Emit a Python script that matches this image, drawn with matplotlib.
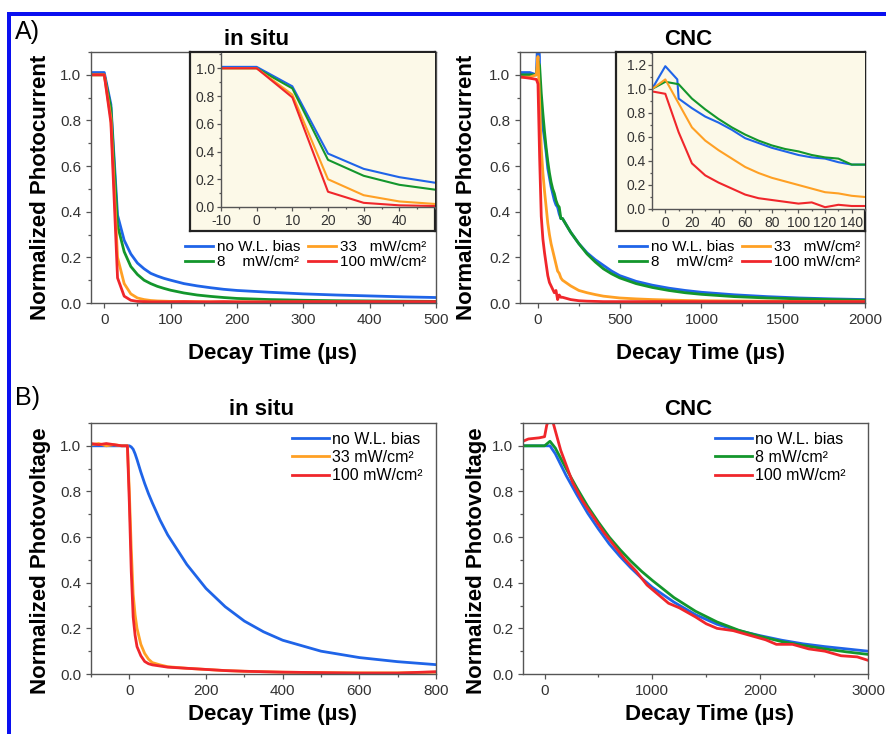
import matplotlib
matplotlib.use("Agg")
import matplotlib.pyplot as plt
from matplotlib.ticker import MultipleLocator, FormatStrFormatter
from matplotlib.patches import Rectangle

plt.rcParams['font.family'] = ['Liberation Sans', 'DejaVu Sans']
plt.rcParams['axes.unicode_minus'] = False

# ---------------- data ----------------
# A) in situ photocurrent
t_situ_pc = [-20, -10, 0, 10, 20, 30, 40, 50, 60, 70, 80, 90, 100, 120, 140, 160, 180, 200,
             250, 300, 350, 400, 450, 500]
situ_pc_blue = [1.01, 1.01, 1.01, 0.87, 0.385, 0.275, 0.215, 0.175, 0.15, 0.13, 0.118, 0.108, 0.1,
                0.085, 0.075, 0.067, 0.06, 0.055, 0.047, 0.04, 0.035, 0.031, 0.027, 0.024]
situ_pc_green = [1.0, 1.0, 1.0, 0.855, 0.34, 0.225, 0.16, 0.125, 0.1, 0.085, 0.073, 0.064, 0.056,
                 0.044, 0.035, 0.029, 0.024, 0.02, 0.015, 0.012, 0.01, 0.009, 0.008, 0.007]
situ_pc_orange = [1.0, 1.0, 1.0, 0.81, 0.2, 0.085, 0.04, 0.022, 0.015, 0.011, 0.009, 0.008, 0.007,
                  0.006, 0.006, 0.005, 0.005, 0.005, 0.004, 0.004, 0.004, 0.004, 0.003, 0.003]
situ_pc_red = [1.0, 1.0, 1.0, 0.79, 0.11, 0.03, 0.012, 0.007, 0.006, 0.005, 0.005, 0.005, 0.005,
               0.006, 0.005, 0.005, 0.006, 0.005, 0.005, 0.006, 0.006, 0.006, 0.006, 0.006]

# A) CNC photocurrent
t_cnc_pc_blue = [-100, -50, -10, 0, 9, 10, 20, 30, 40, 50, 60, 70, 80, 90, 100, 110, 120, 130, 140,
                 150, 200, 250, 300, 350, 400, 450, 500, 600, 700, 800, 900, 1000, 1200, 1400,
                 1600, 1800, 2000]
cnc_pc_blue = [1.01, 1.01, 1.0, 1.19, 1.08, 0.92, 0.84, 0.77, 0.72, 0.66, 0.59, 0.55, 0.51, 0.48,
               0.45, 0.43, 0.42, 0.39, 0.37, 0.37, 0.31, 0.26, 0.22, 0.19, 0.165, 0.14, 0.12,
               0.095, 0.078, 0.065, 0.055, 0.047, 0.036, 0.028, 0.022, 0.018, 0.015]
t_cnc_pc = [-100, -50, -10, 0, 10, 20, 30, 40, 50, 60, 70, 80, 90, 100, 110, 120, 130, 140, 150,
            200, 250, 300, 350, 400, 450, 500, 600, 700, 800, 900, 1000, 1200, 1400, 1600,
            1800, 2000]
cnc_pc_green = [1.0, 1.0, 1.0, 1.06, 1.04, 0.92, 0.83, 0.75, 0.68, 0.62, 0.57, 0.53, 0.5, 0.48,
                0.45, 0.43, 0.42, 0.37, 0.37, 0.31, 0.26, 0.215, 0.18, 0.15, 0.128, 0.11, 0.085,
                0.068, 0.055, 0.045, 0.038, 0.028, 0.022, 0.018, 0.015, 0.012]
cnc_pc_orange = [0.99, 0.99, 1.0, 1.08, 0.88, 0.68, 0.57, 0.49, 0.42, 0.35, 0.3, 0.26, 0.23, 0.2,
                 0.17, 0.14, 0.13, 0.11, 0.1, 0.075, 0.055, 0.045, 0.037, 0.03, 0.026, 0.022,
                 0.018, 0.015, 0.013, 0.011, 0.01, 0.009, 0.008, 0.007, 0.006, 0.006]
cnc_pc_red = [0.99, 0.985, 0.98, 0.96, 0.64, 0.38, 0.28, 0.22, 0.17, 0.12, 0.09, 0.075, 0.06,
              0.045, 0.055, 0.015, 0.035, 0.025, 0.025, 0.015, 0.01, 0.008, 0.007, 0.006, 0.006,
              0.006, 0.006, 0.006, 0.006, 0.006, 0.006, 0.006, 0.006, 0.006, 0.006, 0.006]

# B) in situ photovoltage
t_situ_pv = [-100, -80, -60, -40, -20, -10, -5, 0, 5, 10, 15, 20, 30, 40, 50, 60, 80, 100, 150,
             200, 250, 300, 350, 400, 500, 600, 700, 800]
situ_pv_blue = [1.0, 1.0, 1.0, 1.0, 1.0, 1.0, 1.0, 1.0, 0.995, 0.985, 0.965, 0.94, 0.885, 0.835,
                0.79, 0.75, 0.675, 0.61, 0.48, 0.375, 0.295, 0.232, 0.185, 0.148, 0.1, 0.072,
                0.054, 0.041]
situ_pv_orange = [1.005, 1.01, 1.0, 1.005, 1.0, 1.0, 1.0, 0.8, 0.55, 0.35, 0.26, 0.2, 0.13, 0.09,
                  0.065, 0.05, 0.04, 0.032, 0.025, 0.02, 0.015, 0.012, 0.01, 0.008, 0.006, 0.005,
                  0.005, 0.008]
situ_pv_red = [1.01, 1.005, 1.01, 1.005, 1.0, 1.0, 1.0, 0.75, 0.45, 0.25, 0.17, 0.12, 0.08, 0.055,
               0.045, 0.04, 0.035, 0.03, 0.025, 0.02, 0.015, 0.012, 0.01, 0.008, 0.006, 0.004,
               0.004, 0.01]

# B) CNC photovoltage
t_cnc_pv = [-200, 0, 50, 100, 200, 300, 400, 500, 600, 700, 800, 900, 1000, 1200, 1400, 1600,
            1800, 2000, 2200, 2400, 2600, 2800, 3000]
cnc_pv_blue = [1.0, 1.0, 1.0, 0.965, 0.87, 0.785, 0.705, 0.635, 0.57, 0.515, 0.465, 0.42, 0.38,
               0.315, 0.26, 0.218, 0.19, 0.168, 0.148, 0.132, 0.12, 0.11, 0.10]
cnc_pv_green = [1.0, 1.0, 1.02, 0.99, 0.90, 0.815, 0.735, 0.665, 0.60, 0.545, 0.495, 0.45, 0.41,
                0.335, 0.275, 0.228, 0.192, 0.165, 0.142, 0.125, 0.11, 0.097, 0.086]
t_cnc_pv_red = [-200, -150, -50, 0, 20, 50, 80, 150, 260, 350, 450, 550, 650, 750, 850, 950,
                1050, 1150, 1250, 1400, 1500, 1600, 1750, 1900, 2050, 2150, 2300, 2450, 2600,
                2750, 2900, 3000]
cnc_pv_red = [1.02, 1.03, 1.035, 1.04, 1.09, 1.13, 1.1, 0.98, 0.84, 0.76, 0.69, 0.62, 0.56, 0.5,
              0.45, 0.39, 0.35, 0.31, 0.29, 0.25, 0.22, 0.2, 0.19, 0.17, 0.15, 0.13, 0.13, 0.11,
              0.10, 0.08, 0.075, 0.06]

lab_A = ['no W.L. bias', '8    mW/cm²', '33   mW/cm²', '100 mW/cm²']
lab_B_situ = ['no W.L. bias', '33 mW/cm²', '100 mW/cm²']
lab_B_cnc = ['no W.L. bias', '8 mW/cm²', '100 mW/cm²']

C_BLUE = '#1f64e8'
C_GREEN = '#13962c'
C_ORANGE = '#ffa024'
C_RED = '#f0262b'
BEIGE = '#fcf9e8'

W, H = 886, 734
fig = plt.figure(figsize=(W / 100, H / 100), dpi=100)


def rect(l, t, r, b):
    return [l / W, (H - b) / H, (r - l) / W, (b - t) / H]


def style(ax, fs=11, major=3.5, minor=2.0):
    for s in ax.spines.values():
        s.set_color('#555555')
        s.set_linewidth(1.0)
    ax.tick_params(which='both', direction='out', colors='#555555', labelcolor='#333333',
                   labelsize=fs, width=0.9)
    ax.tick_params(which='major', length=major)
    ax.tick_params(which='minor', length=minor)
    ax.yaxis.set_major_formatter(FormatStrFormatter('%.1f'))


def labels(ax, ylab, xl_x, xl_y, yl_x, yl_y, title, tx, ty):
    ax.set_xlabel('Decay Time (µs)', fontsize=16, fontweight='bold')
    ax.set_ylabel(ylab, fontsize=16, fontweight='bold')
    ax.xaxis.set_label_coords(xl_x, xl_y)
    ax.yaxis.set_label_coords(yl_x, yl_y)
    ax.text(tx, ty, title, transform=ax.transAxes, fontsize=16, fontweight='bold',
            ha='center', va='center')


LW = 2.0

# ---------- A left ----------
ax1 = fig.add_axes(rect(91, 52, 436, 303))
ax1.plot(t_situ_pc, situ_pc_blue, color=C_BLUE, lw=LW, label=lab_A[0])
ax1.plot(t_situ_pc, situ_pc_green, color=C_GREEN, lw=LW, label=lab_A[1])
ax1.plot(t_situ_pc, situ_pc_orange, color=C_ORANGE, lw=LW, label=lab_A[2])
ax1.plot(t_situ_pc, situ_pc_red, color=C_RED, lw=LW, label=lab_A[3])
ax1.set_xlim(-20, 500)
ax1.set_ylim(0, 1.1)
ax1.xaxis.set_major_locator(MultipleLocator(100))
ax1.xaxis.set_minor_locator(MultipleLocator(50))
ax1.yaxis.set_major_locator(MultipleLocator(0.2))
ax1.yaxis.set_minor_locator(MultipleLocator(0.1))
style(ax1)
labels(ax1, 'Normalized Photocurrent', 0.527, -0.16, -0.117, 0.46, 'in situ', 0.481, 1.048)

# ---------- A right ----------
ax2 = fig.add_axes(rect(520, 52, 865, 303))
ax2.plot(t_cnc_pc_blue, cnc_pc_blue, color=C_BLUE, lw=LW, label=lab_A[0])
ax2.plot(t_cnc_pc, cnc_pc_green, color=C_GREEN, lw=LW, label=lab_A[1])
ax2.plot(t_cnc_pc, cnc_pc_orange, color=C_ORANGE, lw=LW, label=lab_A[2])
ax2.plot(t_cnc_pc, cnc_pc_red, color=C_RED, lw=LW, label=lab_A[3])
ax2.set_xlim(-110, 2000)
ax2.set_ylim(0, 1.1)
ax2.xaxis.set_major_locator(MultipleLocator(500))
ax2.xaxis.set_minor_locator(MultipleLocator(250))
ax2.yaxis.set_major_locator(MultipleLocator(0.2))
ax2.yaxis.set_minor_locator(MultipleLocator(0.1))
style(ax2)
labels(ax2, 'Normalized Photocurrent', 0.522, -0.16, -0.125, 0.46, 'CNC', 0.487, 1.048)

# ---------- B left ----------
ax3 = fig.add_axes(rect(91, 423, 436, 674))
ax3.plot(t_situ_pv, situ_pv_blue, color=C_BLUE, lw=LW, label=lab_B_situ[0])
ax3.plot(t_situ_pv, situ_pv_orange, color=C_ORANGE, lw=LW, label=lab_B_situ[1])
ax3.plot(t_situ_pv, situ_pv_red, color=C_RED, lw=LW, label=lab_B_situ[2])
ax3.set_xlim(-100, 800)
ax3.set_ylim(0, 1.1)
ax3.xaxis.set_major_locator(MultipleLocator(200))
ax3.xaxis.set_minor_locator(MultipleLocator(100))
ax3.yaxis.set_major_locator(MultipleLocator(0.2))
ax3.yaxis.set_minor_locator(MultipleLocator(0.1))
style(ax3)
labels(ax3, 'Normalized Photovoltage', 0.527, -0.12, -0.117, 0.45, 'in situ', 0.495, 1.052)

# ---------- B right ----------
ax4 = fig.add_axes(rect(523, 423, 868, 674))
ax4.plot(t_cnc_pv, cnc_pv_blue, color=C_BLUE, lw=LW, label=lab_B_cnc[0])
ax4.plot(t_cnc_pv, cnc_pv_green, color=C_GREEN, lw=LW, label=lab_B_cnc[1])
ax4.plot(t_cnc_pv_red, cnc_pv_red, color=C_RED, lw=LW, label=lab_B_cnc[2])
ax4.set_xlim(-200, 3000)
ax4.set_ylim(0, 1.1)
ax4.xaxis.set_major_locator(MultipleLocator(1000))
ax4.xaxis.set_minor_locator(MultipleLocator(500))
ax4.yaxis.set_major_locator(MultipleLocator(0.2))
ax4.yaxis.set_minor_locator(MultipleLocator(0.1))
style(ax4)
labels(ax4, 'Normalized Photovoltage', 0.542, -0.12, -0.104, 0.45, 'CNC', 0.478, 1.052)

# ---------- legends ----------
legA = dict(loc='upper left', frameon=False, ncol=2, fontsize=11, handlelength=1.85,
            handletextpad=0.25, columnspacing=0.5, labelspacing=0.05, borderpad=0,
            borderaxespad=0)
ax1.legend(bbox_to_anchor=(0.272, 0.25), **legA)
ax2.legend(bbox_to_anchor=(0.287, 0.25), **legA)
legB = dict(loc='upper left', frameon=False, fontsize=11.5, handlelength=2.3,
            handletextpad=0.2, labelspacing=0.2, borderpad=0, borderaxespad=0)
ax3.legend(bbox_to_anchor=(0.583, 0.965), **legB)
ax4.legend(bbox_to_anchor=(0.557, 0.965), **legB)


# ---------- insets ----------
def inset(box, inner, series, xlim, ylim, xmaj, xmin, ymaj, ymin):
    bx = fig.add_axes(rect(*box))
    bx.set_facecolor(BEIGE)
    bx.set_xticks([])
    bx.set_yticks([])
    for s in bx.spines.values():
        s.set_color('#222222')
        s.set_linewidth(1.6)
    ia = fig.add_axes(rect(*inner))
    ia.set_facecolor(BEIGE)
    for t, v, c in series:
        ia.plot(t, v, color=c, lw=1.5)
    ia.set_xlim(*xlim)
    ia.set_ylim(*ylim)
    ia.xaxis.set_major_locator(MultipleLocator(xmaj))
    ia.xaxis.set_minor_locator(MultipleLocator(xmin))
    ia.yaxis.set_major_locator(MultipleLocator(ymaj))
    ia.yaxis.set_minor_locator(MultipleLocator(ymin))
    style(ia, fs=10, major=3, minor=1.5)
    ia.tick_params(axis='x', pad=2)
    ia.tick_params(axis='y', pad=1.5)
    ia.spines['top'].set_visible(False)
    ia.spines['right'].set_visible(False)
    ia.set_xticks([x for x in ia.get_xticks() if xlim[0] <= x < xlim[1]])
    return ia


inset((190, 52, 435, 231), (221, 53, 435, 207),
      [(t_situ_pc, situ_pc_blue, C_BLUE), (t_situ_pc, situ_pc_green, C_GREEN),
       (t_situ_pc, situ_pc_orange, C_ORANGE), (t_situ_pc, situ_pc_red, C_RED)],
      (-10, 50), (0, 1.11), 10, 5, 0.2, 0.1)

inset((616, 52, 865, 231), (652, 53, 865, 209),
      [(t_cnc_pc_blue, cnc_pc_blue, C_BLUE), (t_cnc_pc, cnc_pc_green, C_GREEN),
       (t_cnc_pc, cnc_pc_orange, C_ORANGE), (t_cnc_pc, cnc_pc_red, C_RED)],
      (-10, 150), (0, 1.3), 20, 10, 0.2, 0.1)

# ---------- panel letters and blue frame ----------
fig.text(15 / W, 1 - 32 / H, 'A)', fontsize=18, ha='left', va='center')
fig.text(15 / W, 1 - 398 / H, 'B)', fontsize=18, ha='left', va='center')
fig.add_artist(Rectangle((7 / W, 1 - 15.5 / H), 1 - 7 / W, 3.5 / H, transform=fig.transFigure,
                         color='#0a10f0', lw=0))
fig.add_artist(Rectangle((7 / W, 0), 4 / W, 1 - 12 / H, transform=fig.transFigure,
                         color='#0a10f0', lw=0))

fig.savefig('out.png', dpi=100)
